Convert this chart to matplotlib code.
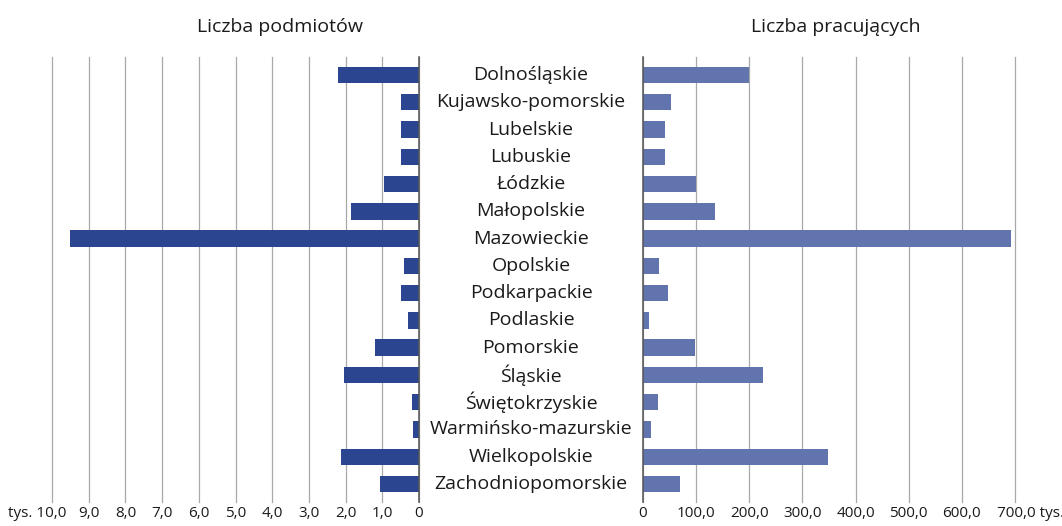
import matplotlib
matplotlib.use("Agg")
import matplotlib.pyplot as plt
import matplotlib.transforms as mtransforms

plt.rcParams["font.family"] = ["Open Sans", "DejaVu Sans"]

regions = ["Dolnośląskie", "Kujawsko-pomorskie", "Lubelskie", "Lubuskie", "Łódzkie",
           "Małopolskie", "Mazowieckie", "Opolskie", "Podkarpackie", "Podlaskie",
           "Pomorskie", "Śląskie", "Świętokrzyskie", "Warmińsko-mazurskie",
           "Wielkopolskie", "Zachodniopomorskie"]
podmioty = [2.2, 0.5, 0.5, 0.5, 0.95, 1.85, 9.5, 0.4, 0.5, 0.3,
            1.2, 2.05, 0.2, 0.17, 2.13, 1.05]
pracujacy = [200, 53, 41, 41, 100, 136, 692, 30, 47, 11,
             98, 226, 28, 15, 348, 70]
left_ticks = list(range(0, 11))
left_labels = ["0", "1,0", "2,0", "3,0", "4,0", "5,0", "6,0", "7,0", "8,0", "9,0", "tys. 10,0"]
right_ticks = list(range(0, 701, 100))
right_labels = ["0", "100,0", "200,0", "300,0", "400,0", "500,0", "600,0", "700,0 tys."]

W, H = 1062, 526
c_left = "#2c4590"
c_right = "#6274ae"
txt = "#1a1a1a"

fig = plt.figure(figsize=(W / 100, H / 100), dpi=100)
fig.patch.set_facecolor("white")
y0, y1 = 1 - 502 / H, 1 - 57 / H
axL = fig.add_axes([52 / W, y0, (419 - 52) / W, y1 - y0])
axR = fig.add_axes([643 / W, y0, (1015 - 643) / W, y1 - y0])

ypos = list(range(len(regions)))
axL.barh(ypos, podmioty, height=0.6, color=c_left, zorder=3)
axR.barh(ypos, pracujacy, height=0.6, color=c_right, zorder=3)

axL.set_xlim(10, 0)
axR.set_xlim(0, 700)
for ax in (axL, axR):
    ax.set_ylim(15.66, -0.66)
    ax.set_yticks([])
    for s in ax.spines.values():
        s.set_visible(False)
    ax.tick_params(axis="x", length=0, pad=3, labelsize=11, labelcolor=txt)

axL.set_xticks(left_ticks)
axL.set_xticklabels(left_labels)
axR.set_xticks(right_ticks)
axR.set_xticklabels(right_labels)
for ax in (axL, axR):
    ax.grid(axis="x", color="#a8a8a8", lw=0.9, zorder=1)
    for gl in ax.get_xgridlines():
        gl.set_clip_on(False)
axL.axvline(0, color="#555555", lw=1.1, zorder=4, clip_on=False)
axR.axvline(0, color="#555555", lw=1.1, zorder=4, clip_on=False)

# "tys." sits beside the end labels, the numbers stay centred on their gridlines
lab10 = axL.get_xticklabels()[-1]
lab10.set_ha("right")
lab10.set_transform(lab10.get_transform() + mtransforms.ScaledTranslation(14 / 100, 0, fig.dpi_scale_trans))
lab700 = axR.get_xticklabels()[-1]
lab700.set_ha("left")
lab700.set_transform(lab700.get_transform() + mtransforms.ScaledTranslation(-18 / 100, 0, fig.dpi_scale_trans))

tr = mtransforms.blended_transform_factory(fig.transFigure, axL.transData)
for y, name in zip(ypos, regions):
    fig.text(531 / W, y, name, transform=tr, ha="center", va="center",
             fontsize=14, color=txt)

fig.text(280 / W, 1 - 27 / H, "Liczba podmiotów", ha="center", va="center",
         fontsize=14, color=txt)
fig.text(836 / W, 1 - 27 / H, "Liczba pracujących", ha="center", va="center",
         fontsize=14, color=txt)

fig.savefig("out.png", dpi=100)
